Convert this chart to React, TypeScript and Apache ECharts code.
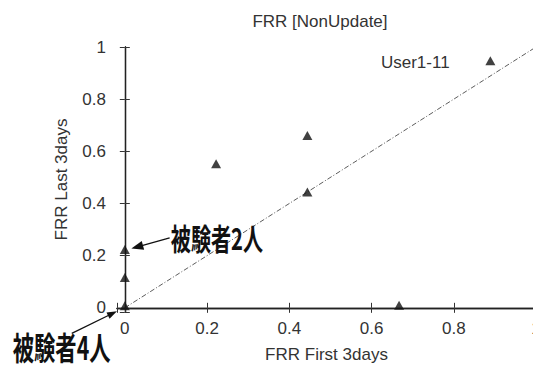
import React, { useEffect, useRef } from "react";
import * as echarts from "echarts";

const firstDays = [0, 0, 0, 0.222, 0.444, 0.444, 0.667, 0.889];
const lastDays = [0.224, 0.116, 0.008, 0.552, 0.661, 0.444, 0.01, 0.947];
const diagonalX = [0, 1];
const diagonalY = [0, 1];

const titleText = "FRR [NonUpdate]";
const xName = "FRR First 3days";
const yName = "FRR Last 3days";

const noteTexts = ["User1-11", "被験者2人", "被験者4人"];
// anchor (left, middle) of each note in data coordinates
const noteX = [0.623, 0.112, -0.2725];
const noteY = [0.942, 0.274, -0.144];

// arrows: start -> tip in data coordinates
const arrowFromX = [0.109, -0.129];
const arrowFromY = [0.268, -0.098];
const arrowToX = [0.016, -0.019];
const arrowToY = [0.227, -0.013];

const X_MIN = -0.019;
const Y_MIN = -0.016;

const fmt = (v: number) => {
  const k = v / 0.2;
  if (Math.abs(k - Math.round(k)) > 1e-6) return "";
  return String(Math.round(v * 10) / 10);
};

export default function App() {
  const ref = useRef<HTMLDivElement>(null);
  useEffect(() => {
    if (!ref.current) return;
    const chart = echarts.init(ref.current, null, { renderer: "svg" });
    const font = "Liberation Sans";
    const axisLine = { show: true, lineStyle: { color: "#222", width: 1.3 } };
    const tick = { show: true, inside: true, length: 5, lineStyle: { color: "#333", width: 1 } };
    const pts = firstDays.map((x, i) => [x, lastDays[i]]);
    const diag = diagonalX.map((x, i) => [x, diagonalY[i]]);
    chart.setOption({
      animation: false,
      backgroundColor: "#fff",
      title: {
        text: titleText,
        left: 320,
        top: 13,
        padding: 0,
        textAlign: "center",
        textStyle: { fontFamily: font, fontSize: 17, fontWeight: "normal", color: "#333" },
      },
      grid: {
        left: 117,
        right: -3,
        top: 47,
        bottom: 53,
        containLabel: false,
        outerBoundsMode: "none",
      },
      xAxis: [
        {
          type: "value",
          min: X_MIN,
          max: 1,
          splitNumber: 5,
          position: "bottom",
          axisLine,
          axisTick: tick,
          splitLine: { show: false },
          axisLabel: { formatter: fmt, fontFamily: font, fontSize: 17, color: "#333", margin: 8 },
          name: xName,
          nameLocation: "middle",
          nameGap: 34,
          nameTextStyle: { fontFamily: font, fontSize: 17, color: "#333" },
        },
        {
          type: "value",
          min: X_MIN,
          max: 1,
          splitNumber: 5,
          position: "top",
          axisLine,
          axisTick: tick,
          splitLine: { show: false },
          axisLabel: { show: false },
        },
      ],
      yAxis: [
        {
          type: "value",
          min: Y_MIN,
          max: 1,
          splitNumber: 5,
          position: "left",
          axisLine,
          axisTick: tick,
          splitLine: { show: false },
          axisLabel: { formatter: fmt, fontFamily: font, fontSize: 17, color: "#333", margin: 11 },
          name: yName,
          nameLocation: "middle",
          nameGap: 47,
          nameTextStyle: { fontFamily: font, fontSize: 17, color: "#333" },
        },
        {
          type: "value",
          min: Y_MIN,
          max: 1,
          splitNumber: 5,
          position: "right",
          axisLine,
          axisTick: tick,
          splitLine: { show: false },
          axisLabel: { show: false },
        },
      ],
      series: [
        {
          type: "scatter",
          data: pts,
          symbol: "triangle",
          symbolSize: [10, 9],
          itemStyle: { color: "#111" },
          z: 5,
        },
        {
          type: "line",
          data: diag,
          symbol: "none",
          lineStyle: { color: "#333", width: 0.8, type: [5, 2, 1, 2] },
          z: 3,
        },
      ],
    });

    const px = (x: number, y: number) =>
      chart.convertToPixel({ seriesIndex: 0 }, [x, y]) as number[];

    const graphics: any[] = [];
    const notePx = noteX.map((x, i) => px(x, noteY[i]));
    graphics.push({
      type: "text",
      x: notePx[0][0],
      y: notePx[0][1],
      style: {
        text: noteTexts[0],
        fontFamily: font,
        fontSize: 17,
        fill: "#333",
        textAlign: "left",
        verticalAlign: "middle",
      },
      z: 10,
    });
    const cjkSizes = [30, 32];
    const cjkScale = [0.67, 0.666];
    for (let k = 1; k < 3; k++) {
      graphics.push({
        type: "text",
        x: notePx[k][0],
        y: notePx[k][1],
        scaleX: cjkScale[k - 1],
        style: {
          text: noteTexts[k],
          fontFamily: "Noto Sans CJK JP",
          fontWeight: "bold",
          fontSize: cjkSizes[k - 1],
          fill: "#111",
          textAlign: "left",
          verticalAlign: "middle",
        },
        z: 10,
      });
    }
    const headLen = [12, 10];
    const headW = [4.5, 3.5];
    for (let a = 0; a < arrowFromX.length; a++) {
      const s = px(arrowFromX[a], arrowFromY[a]);
      const t = px(arrowToX[a], arrowToY[a]);
      const dx = t[0] - s[0];
      const dy = t[1] - s[1];
      const len = Math.hypot(dx, dy);
      const ux = dx / len;
      const uy = dy / len;
      const bx = t[0] - ux * headLen[a];
      const by = t[1] - uy * headLen[a];
      graphics.push({
        type: "line",
        shape: { x1: s[0], y1: s[1], x2: bx + ux * 2, y2: by + uy * 2 },
        style: { stroke: "#111", lineWidth: 1.3 },
        z: 10,
      });
      graphics.push({
        type: "polygon",
        shape: {
          points: [
            [t[0], t[1]],
            [bx - uy * headW[a], by + ux * headW[a]],
            [bx + uy * headW[a], by - ux * headW[a]],
          ],
        },
        style: { fill: "#111" },
        z: 10,
      });
    }
    chart.setOption({ graphic: graphics });
    return () => chart.dispose();
  }, []);
  return (
    <div
      ref={ref}
      style={{ position: "fixed", left: 0, top: 0, width: 533, height: 365, background: "#fff" }}
    />
  );
}
